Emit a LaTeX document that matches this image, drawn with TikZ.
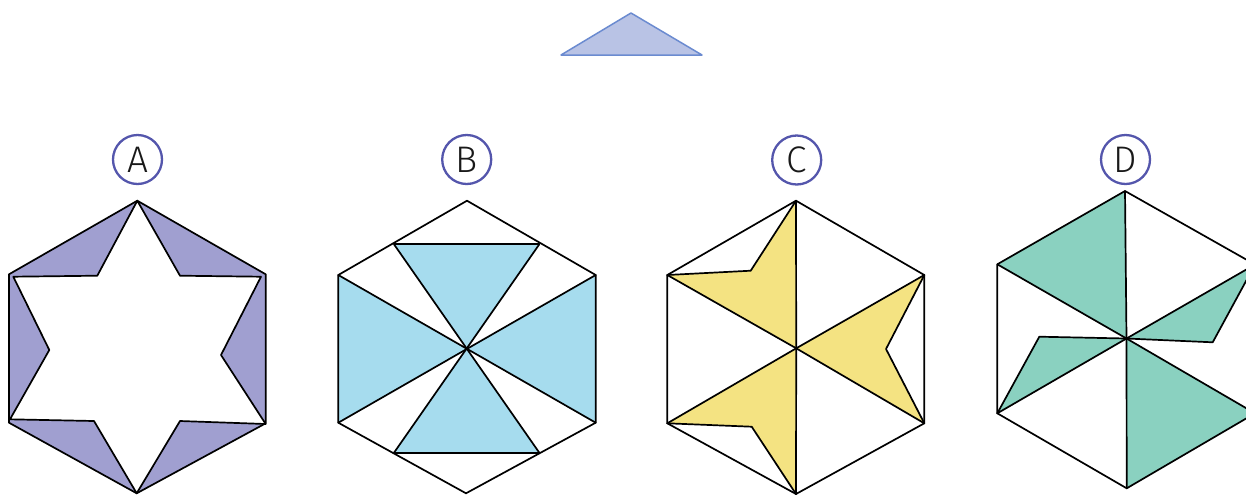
\documentclass[tikz,border=0pt]{standalone}
\usepackage{fontspec}
\setmainfont{Open Sans}
\newfontfamily\labfont{Fira Sans}[UprightFont={* Light}]
\definecolor{afill}{RGB}{160,159,208}
\definecolor{bfill}{RGB}{166,220,238}
\definecolor{cfill}{RGB}{244,227,130}
\definecolor{dfill}{RGB}{138,209,192}
\definecolor{circblue}{RGB}{84,86,172}
\definecolor{trifill}{RGB}{185,195,229}
\definecolor{tristroke}{RGB}{107,139,208}
\begin{document}
\begin{tikzpicture}[x=1pt,y=-1pt,
  ln/.style={draw=black,line width=1.7pt,line join=round,line cap=round},
  lab/.style={circle,draw=circblue,line width=2.3pt,minimum size=49pt,inner sep=0pt,
    font=\labfont\fontsize{37}{37}\selectfont,text=black!90}]
\useasboundingbox (0,0) rectangle (1246,496);
\begin{scope}
\clip (0,0) rectangle (1246,496);
% top triangle
\filldraw[fill=trifill,draw=tristroke,line width=1.5pt,line join=round]
  (561,55) -- (631,13) -- (702,55) -- cycle;
% labels
\node[lab] (la) at (137.5,159.5) {A};
\node[lab] (lb) at (466.7,159.5) {B};
\node[lab] (lc) at (796.7,160) {C};
\node[lab] (ld) at (1125.5,159.5) {D};
% ---------- Hexagon A ----------
\fill[afill] (137.3,200.7) -- (265.7,274.3) -- (265.7,423.3) -- (136.7,493.3) -- (9,422.7) -- (9,274.3) -- cycle;
\filldraw[fill=white,ln] (137.3,200.7) -- (180,275.7) -- (261,276.7) -- (221,355) -- (265.7,424) -- (180,421)
  -- (136.7,493.3) -- (94,421) -- (10,419.3) -- (49.3,350) -- (13.3,276.7) -- (97.3,275.7) -- cycle;
\draw[ln] (137.3,200.7) -- (265.7,274.3) -- (265.7,423.3) -- (136.7,493.3) -- (9,422.7) -- (9,274.3) -- cycle;
% ---------- Hexagon B ----------
\coordinate (bc) at (466.7,349);
\fill[bfill] (394,244.3) -- (539.3,244.3) -- (bc) -- cycle;
\fill[bfill] (394,452.7) -- (539.3,452.7) -- (bc) -- cycle;
\fill[bfill] (338.3,275) -- (338.3,422.7) -- (bc) -- cycle;
\fill[bfill] (595.7,275) -- (595.7,422.7) -- (bc) -- cycle;
\draw[ln] (394,244.3) -- (539.3,244.3);
\draw[ln] (394,452.7) -- (539.3,452.7);
\draw[ln] (394,244.3) -- (539.3,452.7);
\draw[ln] (539.3,244.3) -- (394,452.7);
\draw[ln] (338.3,275) -- (595.7,422.7);
\draw[ln] (338.3,422.7) -- (595.7,275);
\draw[ln] (467,200.7) -- (595.7,275) -- (595.7,422.7) -- (466,493.3) -- (338.3,422.7) -- (338.3,275) -- cycle;
% ---------- Hexagon C ----------
\coordinate (cc) at (796.2,348.3);
\fill[cfill] (796,200.7) -- (750.7,270.7) -- (667.3,275) -- (cc) -- cycle;
\fill[cfill] (924.3,275) -- (886,349) -- (924.3,423.3) -- (cc) -- cycle;
\fill[cfill] (667.3,423.3) -- (751.7,426.7) -- (796,494) -- (cc) -- cycle;
\draw[ln] (796,200.7) -- (750.7,270.7) -- (667.3,275);
\draw[ln] (924.3,275) -- (886,349) -- (924.3,423.3);
\draw[ln] (667.3,423.3) -- (751.7,426.7) -- (796,494);
\draw[ln] (796,200.7) -- (cc) -- (796,494);
\draw[ln] (667.3,275) -- (cc) -- (924.3,423.3);
\draw[ln] (924.3,275) -- (cc) -- (667.3,423.3);
\draw[ln] (796,200.7) -- (924.3,275) -- (924.3,423.3) -- (796,494) -- (667.3,423.3) -- (667.3,275) -- cycle;
% ---------- Hexagon D ----------
\coordinate (dc) at (1126.5,338.5);
\coordinate (dt) at (1125,191);
\coordinate (dul) at (997.3,264.3);
\coordinate (dur) at (1255,264.5);
\coordinate (dlr) at (1255,413.3);
\coordinate (db) at (1126.7,488.3);
\coordinate (dll) at (997.3,413.3);
\coordinate (dp1) at (1212.7,342.3);
\coordinate (dp2) at (1039.3,336.7);
\fill[dfill] (dt) -- (dul) -- (dc) -- cycle;
\fill[dfill] (dur) -- (dp1) -- (dc) -- cycle;
\fill[dfill] (dll) -- (dp2) -- (dc) -- cycle;
\fill[dfill] (dc) -- (db) -- (dlr) -- cycle;
\draw[ln] (dur) -- (dp1) -- (dc);
\draw[ln] (dll) -- (dp2) -- (dc);
\draw[ln] (dt) -- (dc) -- (db);
\draw[ln] (dul) -- (dc) -- (dlr);
\draw[ln] (dur) -- (dc) -- (dll);
\draw[ln] (dt) -- (dur) -- (dlr) -- (db) -- (dll) -- (dul) -- cycle;
\end{scope}
\end{tikzpicture}
\end{document}
